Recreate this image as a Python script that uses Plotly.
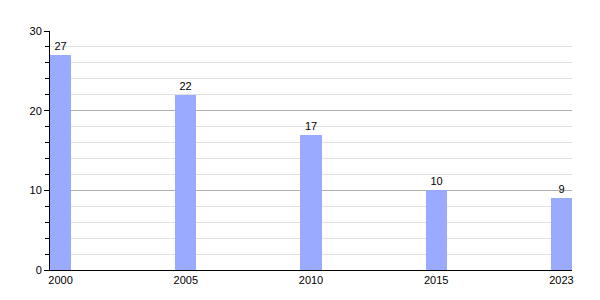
import plotly.graph_objects as go

years = ["2000", "2005", "2010", "2015", "2023"]
values = [27, 22, 17, 10, 9]

fig = go.Figure(go.Bar(
    x=years, y=values,
    width=0.168,
    marker=dict(color="#99aaff", line=dict(width=0)),
    text=[str(v) for v in values],
    textposition="outside",
    textfont=dict(family="Liberation Sans, Arial", size=11, color="#000"),
    cliponaxis=False,
))

fig.update_layout(
    width=600, height=300,
    margin=dict(l=50, r=28, t=31, b=30),
    paper_bgcolor="white", plot_bgcolor="white",
    font=dict(family="Liberation Sans, Arial", size=11, color="#000"),
    showlegend=False,
    bargap=0,
)
fig.update_xaxes(
    type="category", range=[-0.084, 4.084],
    showline=True, linecolor="#000", linewidth=1,
    showgrid=False, ticks="", tickfont=dict(size=11),
)
fig.update_yaxes(
    range=[0, 30], tickvals=[0, 10, 20, 30],
    showline=True, linecolor="#000", linewidth=1,
    ticks="outside", ticklen=5, tickcolor="#000",
    showgrid=True, gridcolor="#b0b0b0", gridwidth=1,
    zeroline=False,
    minor=dict(dtick=2, tick0=0, ticks="outside", ticklen=4, tickcolor="#000",
               showgrid=True, gridcolor="#e2e2e2", gridwidth=1),
    tickfont=dict(size=11),
)

fig.write_html("out.html")
